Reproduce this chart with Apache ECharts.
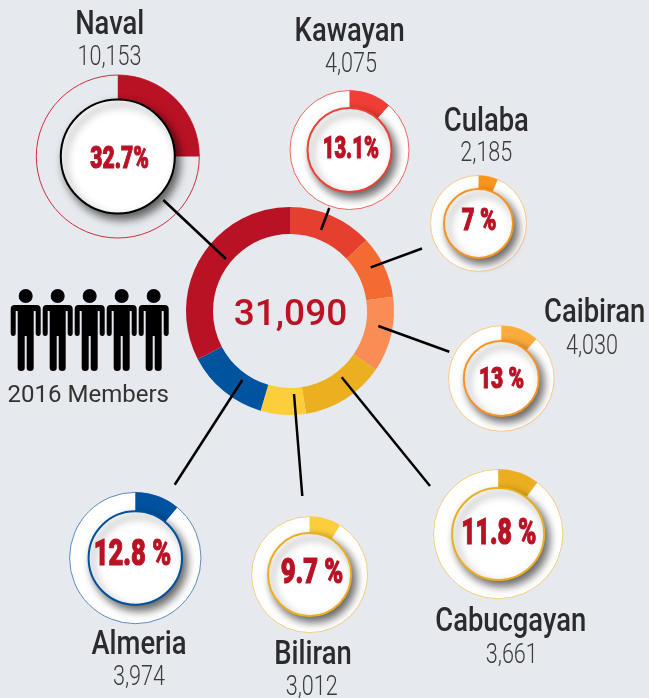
<!DOCTYPE html>
<html>
<head>
<meta charset="utf-8">
<style>
  html, body { margin: 0; padding: 0; background: #e6e9ed; }
  #chart { width: 649px; height: 698px; }
</style>
<script src="https://cdn.jsdelivr.net/npm/echarts@6/dist/echarts.min.js"></script>
</head>
<body>
<div id="chart"></div>
<script>
// the big ring, clockwise from 12 o'clock
var ringNames = ['Kawayan', 'Biliran', 'Cabucgayan', 'Caibiran', 'Culaba', 'Almeria', 'Naval'];
var ringValues = [4075, 3012, 3661, 4030, 2185, 3974, 10153];
var ringColors = ['#e53f2f', '#f46a33', '#fa8d55', '#ebaf20', '#fdce3c', '#00539f', '#b91224'];
var totalLabel = '31,090';

// the small dials
var towns = ['Naval', 'Kawayan', 'Culaba', 'Caibiran', 'Cabucgayan', 'Biliran', 'Almeria'];
var townValues = ['10,153', '4,075', '2,185', '4,030', '3,661', '3,012', '3,974'];
var townPercents = ['32.7%', '13.1%', '7 %', '13 %', '11.8 %', '9.7 %', '12.8 %'];
var dialSweeps = [90, 41.5, 23.7, 41.6, 37.3, 31.6, 39.7];
var dialColors = ['#b91224', '#f03e36', '#f9951f', '#fbac3a', '#ebae21', '#fdce3c', '#00529f'];
var dialEdges = ['#000000', '#ea4335', '#f7941e', '#f7941e', '#ebae21', '#ebae21', '#00529f'];
var dialRims = ['#c8323f', '#f0665a', '#fbc98a', '#fbc98a', '#f3cf7a', '#f3cf7a', '#5b8cc0'];
var dialFills = ['transparent', '#fff', '#fff', '#fff', '#fff', '#fff', '#fff'];

var memberIcons = [0, 1, 2, 3, 4];
var membersLabel = '2016 Members';

// cx, cy, outer r, hole r
var dialSpots = [
  [117.8, 156.5, 81.5, 57],
  [349.5, 150, 59.5, 42],
  [478.5, 223.4, 48, 34.5],
  [501.3, 378.5, 52.8, 37.5],
  [498.2, 534, 64.7, 46],
  [309.6, 574.6, 58, 41.5],
  [135.3, 558, 65.7, 46.7]
];
// name x/baseline, value x/baseline, percent x/y, percent font size, squeeze
var textSpots = [
  [109.7, 35, 109.5, 66, 119.6, 160, 31, 0.68],
  [349.7, 41.7, 351, 73, 350.8, 150, 32, 0.63],
  [486.3, 131.7, 486.3, 162.3, 479, 221.5, 32, 0.69],
  [594.7, 323, 592, 355, 501.5, 380, 30, 0.70],
  [510.7, 632.3, 511.8, 664, 498.8, 534.5, 37, 0.67],
  [313, 665, 311.7, 696, 312, 574.5, 35, 0.73],
  [139, 655, 139, 686, 132.5, 556, 36, 0.71]
];
var leaderLines = [
  [163.3, 200, 226, 259],
  [329.3, 208, 321, 230],
  [370.7, 267.3, 422, 248.5],
  [378.3, 326, 449.3, 351.7],
  [341.7, 377.3, 430, 486],
  [294, 394, 302.3, 496],
  [242.3, 380, 174.7, 484.7]
];

var personPath = 'path://M15 0a7 7 0 1 1 0 14a7 7 0 1 1 0-14zM4 16H26Q30 16 30 20V44Q30 47 27.5 47Q25 47 25 44V22H23V79Q23 82 19.5 82Q16 82 16 79V47H14V79Q14 82 10.5 82Q7 82 7 79V22H5V44Q5 47 2.5 47Q0 47 0 44V20Q0 16 4 16Z';

var chart = echarts.init(document.getElementById('chart'), null, { renderer: 'canvas' });

var series = [];
var graphics = [];

// y is the baseline, zrender has no alphabetic align so it goes through middle
function textEl(str, x, y, weight, size, family, color, squeeze, thicken) {
  var style = {
    text: str, x: 0, y: 0, font: weight + ' ' + size + 'px ' + family,
    fill: color, align: 'center', verticalAlign: 'middle'
  };
  if (thicken) {
    style.stroke = color;
    style.lineWidth = thicken;
  }
  return { type: 'text', x: x, y: y - 0.28 * size, scaleX: squeeze, z: 20, silent: true, style: style };
}

series.push({
  type: 'pie',
  silent: true,
  animation: false,
  center: [290, 311],
  radius: [77, 104],
  startAngle: 90,
  label: { show: false },
  labelLine: { show: false },
  data: ringNames.map(function (n, i) {
    return { name: n, value: ringValues[i], itemStyle: { color: ringColors[i] } };
  })
});

towns.forEach(function (town, i) {
  var spot = dialSpots[i];
  var center = [spot[0], spot[1]];
  // disc with the thin rim
  series.push({
    type: 'pie', silent: true, animation: false, z: 2,
    center: center, radius: [0, spot[2]], label: { show: false }, labelLine: { show: false },
    data: [{ name: town + ' rim', value: 1, itemStyle: { color: dialFills[i], borderColor: dialRims[i], borderWidth: 1 } }]
  });
  // filled part
  series.push({
    type: 'pie', silent: true, animation: false, z: 3,
    center: center, radius: [spot[3] - 2, spot[2]], startAngle: 90,
    label: { show: false }, labelLine: { show: false },
    data: [
      { name: town, value: dialSweeps[i], itemStyle: { color: dialColors[i] } },
      { name: '', value: 360 - dialSweeps[i], itemStyle: { color: 'transparent' } }
    ]
  });
  // the hub
  series.push({
    type: 'pie', silent: true, animation: false, z: 6,
    center: center, radius: [0, spot[3]], label: { show: false }, labelLine: { show: false },
    data: [{
      name: town + ' hub', value: 1,
      itemStyle: {
        color: '#fff', borderColor: dialEdges[i], borderWidth: 2,
        shadowColor: 'rgba(0,0,0,0.6)', shadowBlur: 8, shadowOffsetX: 4, shadowOffsetY: 5
      }
    }]
  });

  var t = textSpots[i];
  graphics.push(textEl(town, t[0], t[1], 500, 33, 'Roboto', '#2b2a2c', 0.83));
  graphics.push(textEl(townValues[i], t[2], t[3], 300, 27, 'Roboto', '#3a3a3c', 0.8));
  graphics.push(textEl(townPercents[i], t[4], t[5] + 0.28 * t[6], 900, t[6], 'Roboto', '#b91224', t[7], 1.1));
});

leaderLines.forEach(function (l) {
  graphics.push({
    type: 'line', z: 5, silent: true,
    shape: { x1: l[0], y1: l[1], x2: l[2], y2: l[3] },
    style: { stroke: '#000', lineWidth: 2.5 }
  });
});

graphics.push(textEl(totalLabel, 290.5, 326, 500, 37, 'Roboto', '#bb1224', 1));
graphics.push(textEl(membersLabel, 88.3, 402.7, 400, 24, 'Roboto', '#333', 1));

// the row of little people
series.push({
  type: 'scatter', silent: true, animation: false,
  symbol: personPath, symbolSize: [30, 82],
  itemStyle: { color: '#000', opacity: 1 },
  data: memberIcons.map(function (v) { return [v, 0]; })
});

chart.setOption({
  backgroundColor: '#e6e9ed',
  animation: false,
  grid: { left: 25.7, width: 128, top: 329, height: 1 },
  xAxis: { type: 'value', min: 0, max: 4, show: false },
  yAxis: { type: 'value', min: 0, max: 1, show: false },
  series: series,
  graphic: { elements: graphics }
});
</script>
</body>
</html>
